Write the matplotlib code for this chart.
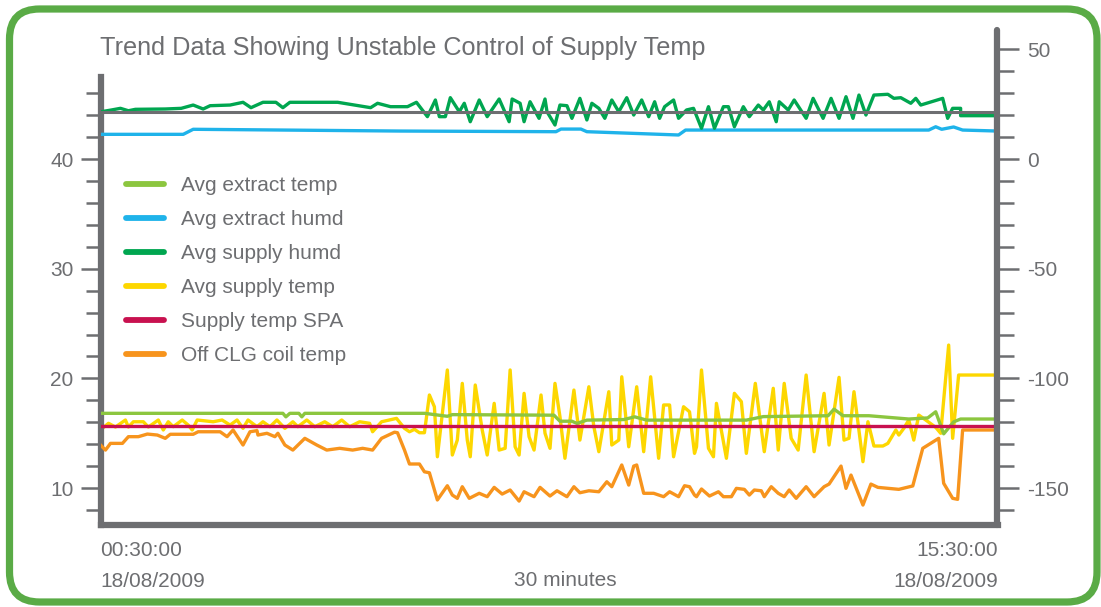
import matplotlib
matplotlib.use('Agg')
import matplotlib.pyplot as plt
from matplotlib.patches import FancyBboxPatch
from matplotlib.lines import Line2D
from matplotlib.ticker import FixedLocator, NullFormatter

plt.rcParams['font.family'] = ['Liberation Sans', 'DejaVu Sans']
plt.rcParams['axes.unicode_minus'] = False

# ---------------- data (time in minutes since 00:00, value in degC / %) ----------------
title = "Trend Data Showing Unstable Control of Supply Temp"
series_names = ["Avg extract temp", "Avg extract humd", "Avg supply humd",
                "Avg supply temp", "Supply temp SPA", "Off CLG coil temp"]
series_colors = ["#8cc63f", "#1fb3ea", "#00a650", "#fdd700", "#c8114f", "#f7941d"]

x_start_label = "00:30:00\n18/08/2009"
x_end_label = "15:30:00\n18/08/2009"
x_interval_label = "30 minutes"
t_start, t_end = 30, 930

left_major = [10, 20, 30, 40]
left_minor = [8, 12, 14, 16, 18, 22, 24, 26, 28, 32, 34, 36, 38, 42, 44, 46]
right_major = [-150, -100, -50, 0, 50]
right_minor = [-160, -140, -130, -120, -110, -90, -80, -70, -60, -40, -30, -20, -10,
               10, 20, 30, 40]

reference_level = 44.3
setpoint_spa = 15.65

extract_temp = [(30, 16.82), (213, 16.82), (216, 16.5), (220, 16.82), (229, 16.82),
                (232, 16.5), (235, 16.82), (355, 16.82), (378, 16.55), (383, 16.7),
                (485, 16.65), (491, 16.1), (503, 16.1), (508, 15.9), (518, 16.2),
                (555, 16.25), (566, 16.5), (578, 16.2), (678, 16.2), (695, 16.52),
                (760, 16.6), (766, 17.2), (775, 16.6), (801, 16.6), (841, 16.3),
                (860, 16.4), (868, 16.96), (876, 14.95), (886, 16.04), (893, 16.3),
                (930, 16.3)]

extract_humd = [(30, 42.25), (113, 42.25), (123, 42.71), (330, 42.55), (487, 42.49),
                (492, 42.73), (512, 42.73), (518, 42.49), (610, 42.19), (617, 42.64),
                (861, 42.64), (868, 42.94), (874, 42.71), (886, 42.92), (895, 42.64),
                (930, 42.55)]

supply_humd = [(30, 44.3), (41, 44.47), (50, 44.62), (58, 44.40), (65, 44.53), (95, 44.56),
               (111, 44.62), (123, 44.92), (133, 44.56), (140, 44.86), (160, 44.92),
               (173, 45.17), (181, 44.68), (193, 45.17), (206, 45.17), (213, 44.68),
               (220, 45.17), (268, 45.17), (301, 44.68), (308, 45.08), (321, 44.77),
               (338, 44.77), (347, 45.17), (358, 43.86), (366, 45.38), (370, 43.86),
               (376, 43.86), (381, 45.59), (390, 44.31), (395, 45.08), (401, 43.40),
               (410, 45.38), (418, 43.86), (430, 45.47), (440, 43.40), (443, 45.47),
               (451, 45.08), (455, 43.40), (461, 45.22), (470, 43.71), (476, 45.47),
               (478, 44.31), (486, 43.10), (491, 44.92), (498, 44.86), (503, 43.71),
               (511, 45.53), (518, 43.56), (523, 45.08), (530, 44.62), (536, 43.71),
               (543, 45.38), (550, 44.31), (558, 45.59), (565, 44.01), (573, 45.38),
               (580, 43.86), (586, 45.22), (591, 43.71), (596, 44.77), (605, 45.38),
               (610, 43.71), (618, 44.47), (625, 44.62), (633, 42.80), (640, 44.77),
               (646, 42.80), (655, 44.77), (660, 44.77), (666, 42.94), (675, 44.77),
               (681, 43.86), (690, 44.92), (695, 44.47), (701, 45.22), (708, 43.40),
               (711, 45.22), (720, 44.47), (726, 45.38), (738, 43.71), (745, 45.53),
               (755, 43.71), (763, 45.53), (771, 43.71), (778, 45.68), (785, 43.71),
               (791, 45.83), (798, 44.01), (806, 45.83), (820, 45.90), (826, 45.53),
               (833, 45.59), (843, 45.08), (848, 45.53), (853, 44.92), (875, 45.53),
               (880, 43.71), (885, 44.62), (893, 44.62), (893, 43.95), (930, 43.95)]

supply_temp = [(30, 15.30), (38, 15.91), (45, 15.57), (55, 16.21), (58, 15.57), (63, 16.05),
               (73, 16.05), (78, 15.57), (88, 16.21), (93, 15.30), (98, 16.05), (103, 15.60),
               (112, 16.21), (118, 15.75), (122, 15.30), (127, 16.21), (143, 16.05),
               (152, 16.21), (160, 15.75), (167, 16.21), (173, 15.45), (178, 16.21),
               (187, 15.60), (193, 16.05), (200, 15.60), (207, 16.21), (215, 15.45),
               (223, 16.05), (228, 15.60), (237, 16.21), (245, 15.60), (255, 16.05),
               (263, 15.60), (272, 16.21), (280, 15.60), (290, 16.05), (300, 15.91),
               (303, 15.14), (312, 16.05), (320, 16.21), (327, 16.36), (335, 15.45),
               (340, 15.14), (345, 15.36), (350, 15.05), (355, 15.05), (360, 18.49),
               (365, 17.42), (368, 12.86), (378, 20.77), (383, 13.02), (388, 14.38),
               (393, 19.55), (398, 14.38), (401, 12.86), (406, 19.40), (413, 15.30),
               (418, 13.02), (425, 17.73), (430, 13.47), (436, 13.63), (441, 20.77),
               (446, 13.77), (450, 13.02), (455, 18.64), (460, 14.69), (465, 13.47),
               (472, 18.49), (476, 15.00), (481, 13.63), (486, 19.55), (491, 16.51),
               (496, 12.72), (505, 18.94), (511, 14.38), (520, 19.24), (525, 15.60),
               (530, 13.32), (540, 18.79), (543, 13.93), (550, 14.38), (553, 20.15),
               (560, 13.77), (568, 19.24), (575, 13.32), (582, 20.15), (590, 12.72),
               (595, 17.58), (601, 17.58), (605, 12.86), (615, 17.42), (621, 16.96),
               (626, 13.17), (628, 13.77), (633, 20.77), (640, 13.63), (645, 12.86),
               (648, 17.73), (658, 12.72), (666, 18.64), (673, 17.88), (678, 13.17),
               (687, 19.55), (696, 13.32), (705, 19.10), (710, 13.47), (716, 19.55),
               (723, 14.54), (730, 13.47), (738, 20.31), (746, 13.32), (756, 18.64),
               (761, 13.93), (771, 20.10), (776, 14.38), (781, 14.54), (786, 18.79),
               (795, 12.41), (800, 16.05), (806, 13.84), (815, 13.84), (820, 14.08),
               (828, 15.30), (831, 14.84), (836, 15.45), (841, 16.21), (846, 14.38),
               (851, 16.66), (858, 16.21), (868, 15.54), (873, 15.00), (881, 23.04),
               (885, 14.54), (891, 20.31), (930, 20.31)]

coil_temp = [(30, 13.93), (35, 13.47), (40, 14.08), (52, 14.08), (58, 14.69), (68, 14.69),
             (77, 14.93), (87, 14.84), (95, 14.54), (100, 14.91), (123, 14.91), (128, 15.14),
             (150, 15.14), (157, 14.69), (163, 15.30), (173, 13.93), (180, 15.14),
             (187, 15.24), (188, 14.84), (197, 15.00), (205, 14.69), (208, 15.00),
             (215, 13.93), (223, 13.47), (235, 14.54), (247, 13.93), (257, 13.47),
             (270, 13.63), (283, 13.47), (293, 13.63), (303, 13.47), (312, 14.54),
             (325, 15.10), (328, 15.05), (335, 13.47), (340, 12.20), (350, 12.20),
             (355, 11.49), (360, 11.40), (368, 8.92), (378, 10.22), (383, 9.37),
             (388, 9.07), (393, 10.13), (400, 9.07), (410, 9.53), (418, 9.22),
             (425, 10.07), (433, 9.46), (441, 9.83), (450, 8.82), (455, 9.67),
             (465, 9.22), (471, 10.07), (481, 9.28), (488, 9.76), (498, 9.22),
             (505, 10.13), (511, 9.58), (520, 9.76), (530, 9.67), (538, 10.58),
             (543, 10.13), (553, 12.11), (560, 10.28), (565, 12.01), (568, 12.11),
             (575, 9.53), (585, 9.53), (595, 9.22), (601, 9.67), (610, 9.22),
             (616, 10.22), (621, 10.13), (626, 9.37), (628, 9.22), (633, 9.92),
             (641, 9.28), (650, 9.67), (655, 9.22), (663, 9.22), (668, 9.98),
             (676, 9.89), (681, 9.37), (686, 9.83), (693, 9.76), (696, 9.22),
             (703, 10.13), (710, 9.53), (716, 9.22), (721, 9.83), (728, 9.07),
             (738, 10.13), (746, 9.22), (756, 10.13), (761, 10.37), (773, 12.01),
             (778, 9.98), (783, 11.19), (795, 8.46), (803, 10.37), (810, 10.07),
             (831, 9.89), (845, 10.20), (855, 13.63), (871, 14.54), (876, 10.44),
             (885, 9.07), (890, 8.98), (895, 15.30), (930, 15.30)]

# ---------------- styling ----------------
GRAY = "#6d6e71"
W, H = 1101, 607
fig = plt.figure(figsize=(W / 100, H / 100), dpi=100)

# green rounded frame
bax = fig.add_axes([0, 0, 1, 1], zorder=0)
bax.set_xlim(0, W)
bax.set_ylim(0, H)
bax.axis('off')
bax.add_patch(FancyBboxPatch((9.5, 5), 1087.5, 593,
                             boxstyle='round,pad=0,rounding_size=30',
                             fc='white', ec='#5aab46', lw=5.2))

# main axes placement (pixels)
px_l, px_r, px_b, px_t = 100.5, 997.5, 525, 30
ax = fig.add_axes([px_l / W, (H - px_b) / H, (px_r - px_l) / W, (px_b - px_t) / H], zorder=1)
ax.set_facecolor('none')

y_lo, y_hi = 6.64, 51.76
ax.set_ylim(y_lo, y_hi)
ax.set_xlim(t_start, t_end)


def unzip(pairs):
    return [p[0] for p in pairs], [p[1] for p in pairs]


LW = 2.4
t, v = unzip(supply_temp)
ax.plot(t, v, color=series_colors[3], lw=LW, zorder=2)
t, v = unzip(coil_temp)
ax.plot(t, v, color=series_colors[5], lw=LW, zorder=3)
t, v = unzip(extract_temp)
ax.plot(t, v, color=series_colors[0], lw=LW, zorder=4)
ax.plot([t_start, t_end], [setpoint_spa, setpoint_spa], color=series_colors[4], lw=LW, zorder=5)
t, v = unzip(extract_humd)
ax.plot(t, v, color=series_colors[1], lw=LW, zorder=4)
t, v = unzip(supply_humd)
ax.plot(t, v, color=series_colors[2], lw=LW, zorder=4)
ax.plot([t_start, t_end], [reference_level, reference_level], color=GRAY, lw=2.2, zorder=6)

# spines
for s in ['top', 'right']:
    ax.spines[s].set_visible(False)
for s in ['left', 'bottom']:
    ax.spines[s].set_color(GRAY)
    ax.spines[s].set_linewidth(4.5)
    ax.spines[s].set_capstyle('projecting')
ax.spines['left'].set_bounds(y_lo, 47.5)

ax.set_xticks([])
ax.yaxis.set_major_locator(FixedLocator(left_major))
ax.yaxis.set_minor_locator(FixedLocator(left_minor))
ax.yaxis.set_minor_formatter(NullFormatter())
ax.tick_params(axis='y', which='major', length=14.5, width=1.8, color=GRAY,
               labelcolor=GRAY, labelsize=15, pad=5)
ax.tick_params(axis='y', which='minor', length=10.5, width=1.8, color=GRAY)

ax2 = ax.twinx()
ax2.set_ylim(5 * y_lo - 200, 5 * y_hi - 200)
for s in ['top', 'left', 'bottom']:
    ax2.spines[s].set_visible(False)
ax2.spines['right'].set_color(GRAY)
ax2.spines['right'].set_linewidth(4.5)
ax2.spines['right'].set_capstyle('round')
ax2.yaxis.set_major_locator(FixedLocator(right_major))
ax2.yaxis.set_minor_locator(FixedLocator(right_minor))
ax2.yaxis.set_minor_formatter(NullFormatter())
ax2.tick_params(axis='y', which='major', length=16, width=1.8, color=GRAY,
                labelcolor=GRAY, labelsize=15, pad=5.5)
ax2.tick_params(axis='y', which='minor', length=12.5, width=1.8, color=GRAY)
ax2.set_xticks([])

# title
fig.text(100 / W, 1 - 48 / H, title, fontsize=18.2, color=GRAY, ha='left', va='center')

# x-axis annotations
fig.text(100 / W, 1 - 566 / H, x_start_label, fontsize=15, color=GRAY, ha='left',
         va='center', linespacing=1.75)
fig.text(998 / W, 1 - 566 / H, x_end_label, fontsize=15, color=GRAY, ha='right',
         va='center', linespacing=1.75, multialignment='right')
fig.text(565 / W, 1 - 580 / H, x_interval_label, fontsize=15, color=GRAY, ha='center',
         va='center')

# legend
handles = [Line2D([], [], color=c, lw=4.2, solid_capstyle='round') for c in series_colors]
leg = fig.legend(handles, series_names, loc='upper left',
                 bbox_to_anchor=(126 / W, 1 - 176 / H), bbox_transform=fig.transFigure,
                 frameon=False, fontsize=15, handlelength=1.8, handletextpad=0.85,
                 labelspacing=0.72, borderpad=0, borderaxespad=0)
for txt in leg.get_texts():
    txt.set_color(GRAY)

fig.savefig('out.png', dpi=100)
